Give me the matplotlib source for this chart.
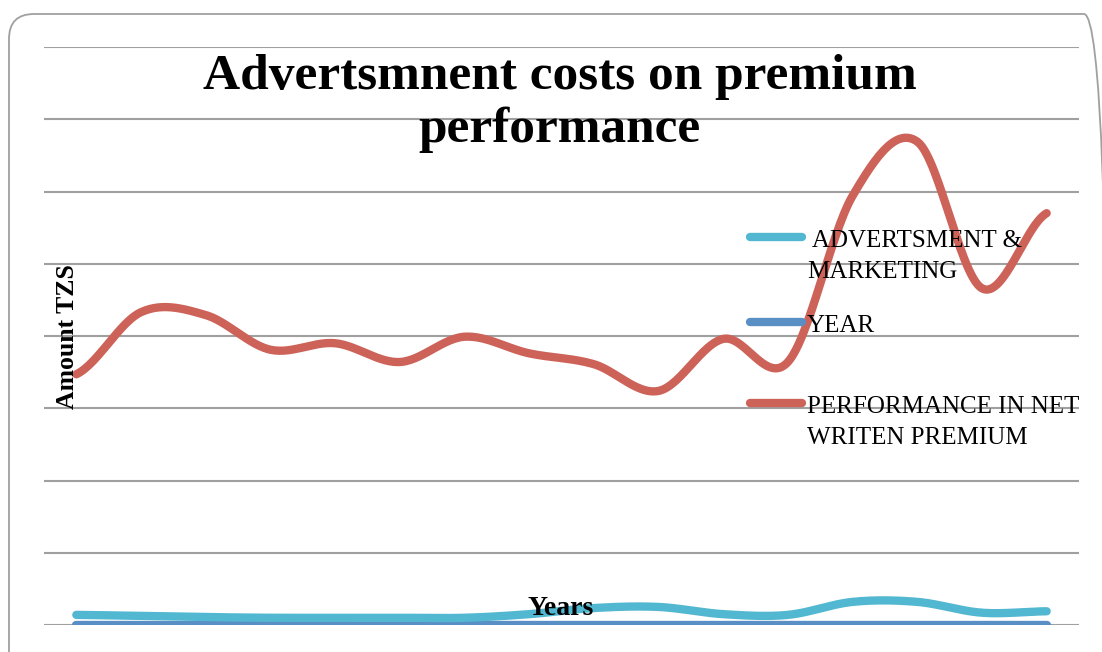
import numpy as np
import matplotlib.pyplot as plt
from matplotlib.patches import FancyBboxPatch
from matplotlib.lines import Line2D

# Data (amounts in thousand TZS)
years = np.arange(2000, 2016)
advert = [140, 125, 110, 100, 100, 100, 100, 150, 235, 250, 150, 140, 320, 320, 170, 190]
advert = [v * 1000 for v in advert]
premium = [3.47, 4.33, 4.29, 3.81, 3.90, 3.64, 3.99, 3.76, 3.61, 3.24, 3.96, 3.64, 5.94, 6.69, 4.66, 5.70]
premium = [v * 1e6 for v in premium]

names = [" ADVERTSMENT &\nMARKETING", "YEAR", "PERFORMANCE IN NET\nWRITEN PREMIUM"]
colors = ["#52B7D0", "#5A8FC6", "#CD6259"]


def smooth(y, n=30):
    # Excel style smoothed line (Catmull-Rom through the points)
    y = np.asarray(y, dtype=float)
    p = np.concatenate([[y[0]], y, [y[-1]]])
    xs, ys = [], []
    t = np.linspace(0, 1, n, endpoint=False)
    for i in range(len(y) - 1):
        p0, p1, p2, p3 = p[i], p[i + 1], p[i + 2], p[i + 3]
        m1 = (p2 - p0) / 2
        m2 = (p3 - p1) / 2
        h00 = 2 * t**3 - 3 * t**2 + 1
        h10 = t**3 - 2 * t**2 + t
        h01 = -2 * t**3 + 3 * t**2
        h11 = t**3 - t**2
        ys.extend(h00 * p1 + h10 * m1 + h01 * p2 + h11 * m2)
        xs.extend(i + t)
    xs.append(len(y) - 1)
    ys.append(y[-1])
    return np.array(xs), np.array(ys)


fig = plt.figure(figsize=(11.02, 6.52), dpi=100)
ax = fig.add_axes([44 / 1102, 27 / 652, 1035 / 1102, 578 / 652])

series = [advert, list(years), premium]
for vals, col, zo in zip(series, colors, [3, 2.9, 3.1]):
    sx, sy = smooth(vals)
    ax.plot(sx, sy, color=col, lw=6, solid_capstyle="round", zorder=zo)

ax.set_xlim(-0.5, len(years) - 0.5)
ax.set_ylim(0, 8e6)
ax.set_yticks(np.arange(0, 8.01e6, 1e6))
ax.grid(axis="y", color="#A0A0A0", lw=1.5)
ax.set_axisbelow(True)
ax.tick_params(length=0, labelleft=False, labelbottom=False)
ax.set_xticks([])
for s in ax.spines.values():
    s.set_visible(False)

serif = ["Liberation Serif", "DejaVu Serif"]
fig.text(0.508, 0.841, "Advertsmnent costs on premium\nperformance", ha="center", va="center",
         fontsize=37, fontweight="bold", family=serif, linespacing=1.2)
fig.text(0.061, 0.484, "Amount TZS", rotation=90, ha="center", va="center",
         fontsize=18.5, fontweight="bold", family=serif)
fig.text(0.509, 0.067, "Years", ha="center", va="center",
         fontsize=20, fontweight="bold", family=serif)

# legend, drawn under the grid like the original
leg_y = [237, 322, 403]
for name, col, yy in zip(names, colors, leg_y):
    fy = 1 - yy / 652
    fig.add_artist(Line2D([750 / 1102, 802 / 1102], [fy, fy], color=col, lw=6,
                          solid_capstyle="round", zorder=0.6))
    fig.text(807 / 1102, fy + 0.01, name, ha="left", va="top", fontsize=18,
             family=serif, linespacing=1.5, zorder=0.1)

frame = FancyBboxPatch((0.09, -0.3), 11.0, 6.68, boxstyle="round,pad=0,rounding_size=0.25",
                       transform=fig.dpi_scale_trans, fill=False, ec="#A0A0A0", lw=1.3)
fig.add_artist(frame)

fig.savefig("out.png", dpi=100)
